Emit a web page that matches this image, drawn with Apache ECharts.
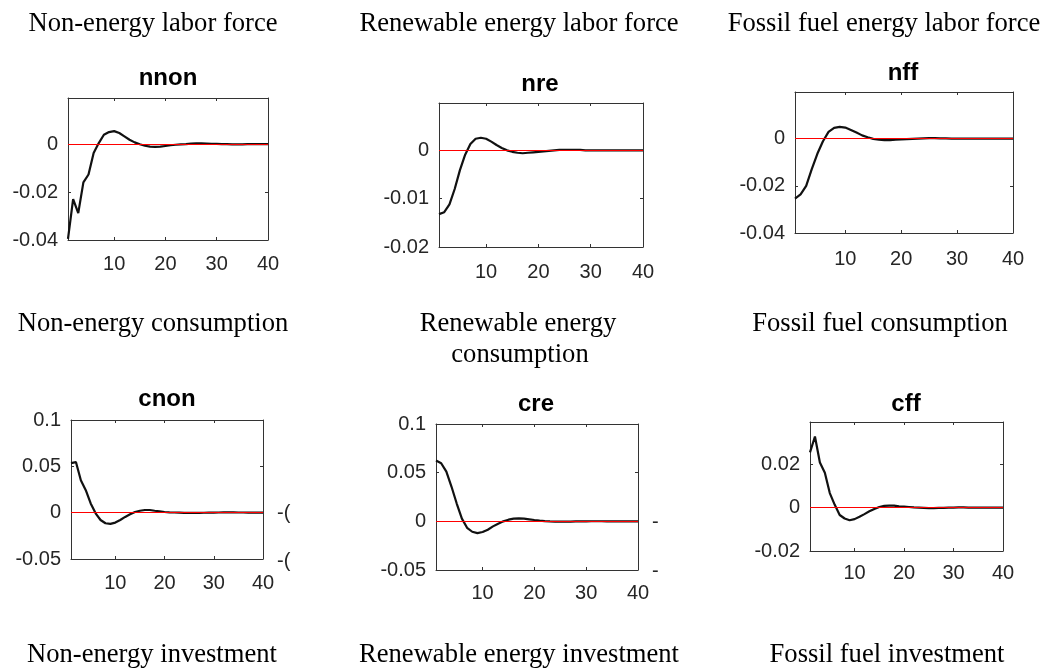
<!DOCTYPE html>
<html>
<head>
<meta charset="utf-8">
<title>Impulse responses</title>
<script src="https://cdn.jsdelivr.net/npm/echarts@6/dist/echarts.min.js"></script>
<style>
  html, body { margin: 0; padding: 0; background: #fff; }
  #main { width: 1046px; height: 668px; }
</style>
</head>
<body>
<div id="main"></div>
<script>
// 期数 (impulse response horizon)
var periods = [1, 2, 3, 4, 5, 6, 7, 8, 9, 10, 11, 12, 13, 14, 15, 16, 17, 18, 19, 20,
  21, 22, 23, 24, 25, 26, 27, 28, 29, 30, 31, 32, 33, 34, 35, 36, 37, 38, 39, 40]

// 各变量的脉冲响应
var nnon = [-0.0395, -0.0230, -0.0288, -0.0160, -0.0127, -0.0037, 0.0004, 0.0039, 0.0050, 0.0054,
  0.0046, 0.0032, 0.0018, 0.0007, -0.0001, -0.0007, -0.0011, -0.0012, -0.0011, -0.0008,
  -0.0005, -0.0003, -0.0001, 0.0000, 0.0002, 0.0003, 0.0003, 0.0002, 0.0001, 0.0001,
  0.0000, 0.0000, -0.0001, -0.0001, -0.0001, 0.0000, 0.0000, 0.0000, 0.0000, 0.0000]
var nre = [-0.0132, -0.0128, -0.0112, -0.0080, -0.0041, -0.0009, 0.0013, 0.0024, 0.0026, 0.0024,
  0.0018, 0.0011, 0.0005, 0.0000, -0.0003, -0.0005, -0.0006, -0.0005, -0.0004, -0.0003,
  -0.0002, -0.0001, 0.0000, 0.0001, 0.0001, 0.0001, 0.0001, 0.0001, 0.0000, 0.0000,
  0.0000, 0.0000, 0.0000, 0.0000, 0.0000, 0.0000, 0.0000, 0.0000, 0.0000, 0.0000]
var nff = [-0.0254, -0.0236, -0.0200, -0.0129, -0.0064, -0.0011, 0.0029, 0.0046, 0.0050, 0.0047,
  0.0037, 0.0026, 0.0014, 0.0006, -0.0001, -0.0004, -0.0006, -0.0006, -0.0004, -0.0003,
  -0.0002, -0.0001, 0.0000, 0.0001, 0.0002, 0.0002, 0.0001, 0.0001, 0.0000, 0.0000,
  0.0000, 0.0000, 0.0000, 0.0000, 0.0000, 0.0000, 0.0000, 0.0000, 0.0000, 0.0000]
var cnon = [0.0535, 0.0546, 0.0350, 0.0243, 0.0100, -0.0007, -0.0079, -0.0114, -0.0121, -0.0107,
  -0.0079, -0.0046, -0.0018, 0.0007, 0.0021, 0.0029, 0.0029, 0.0021, 0.0014, 0.0007,
  0.0004, 0.0002, 0.0000, -0.0002, -0.0003, -0.0003, -0.0002, -0.0001, 0.0000, 0.0001,
  0.0002, 0.0003, 0.0003, 0.0003, 0.0002, 0.0002, 0.0001, 0.0000, 0.0000, 0.0000]
var cre = [0.0624, 0.0597, 0.0510, 0.0355, 0.0183, 0.0028, -0.0066, -0.0107, -0.0121, -0.0110,
  -0.0086, -0.0052, -0.0024, 0.0000, 0.0017, 0.0028, 0.0031, 0.0028, 0.0021, 0.0014,
  0.0008, 0.0003, 0.0000, -0.0002, -0.0003, -0.0003, -0.0002, -0.0001, 0.0000, 0.0000,
  0.0001, 0.0001, 0.0001, 0.0000, 0.0000, 0.0000, 0.0000, 0.0000, 0.0000, 0.0000]
var cff = [0.0255, 0.0328, 0.0208, 0.0161, 0.0067, 0.0013, -0.0034, -0.0050, -0.0058, -0.0053,
  -0.0042, -0.0030, -0.0017, -0.0006, 0.0003, 0.0008, 0.0009, 0.0009, 0.0006, 0.0005,
  0.0003, 0.0001, 0.0000, -0.0001, -0.0002, -0.0002, -0.0001, -0.0001, 0.0000, 0.0000,
  0.0001, 0.0001, 0.0000, 0.0000, 0.0000, 0.0000, 0.0000, 0.0000, 0.0000, 0.0000]

// 子图名称, 刻度, 纵轴范围
var panelNames = ['nnon', 'nre', 'nff', 'cnon', 'cre', 'cff']
var panelSeries = [nnon, nre, nff, cnon, cre, cff]
var xTicks = [10, 20, 30, 40]
var yTicks = [
  [-0.04, -0.02, 0],
  [-0.02, -0.01, 0],
  [-0.04, -0.02, 0],
  [-0.05, 0, 0.05, 0.1],
  [-0.05, 0, 0.05, 0.1],
  [-0.02, 0, 0.02]
]
var yMin = [-0.04, -0.02, -0.04, -0.05, -0.05, -0.02]
var yMax = [0.0192, 0.0098, 0.0198, 0.1, 0.1, 0.0395]

// 说明文字
var captions = [
  'Non-energy labor force', 'Renewable energy labor force', 'Fossil fuel energy labor force',
  'Non-energy consumption', 'Renewable energy', 'consumption', 'Fossil fuel consumption',
  'Non-energy investment', 'Renewable energy investment', 'Fossil fuel investment'
]

// 布局 (像素)
var boxes = [
  { left: 68, top: 98, width: 200, height: 142 },
  { left: 439, top: 103, width: 204, height: 144 },
  { left: 795, top: 92, width: 218, height: 141 },
  { left: 71, top: 420, width: 192, height: 139 },
  { left: 436, top: 424, width: 202, height: 146 },
  { left: 810, top: 422, width: 193, height: 129 }
]
var titlePos = [[168, 66], [540, 72], [903, 61], [167, 387], [536, 392], [906, 392]]
var xLabelMargin = [14, 15, 16, 14, 13, 12]
var captionPos = [
  [153, 24], [519, 24], [884, 24],
  [153, 324], [518, 324], [520, 355], [880, 324],
  [152, 655], [519, 655], [887, 655]
]

var axisColor = '#333'
var labelFont = 'Liberation Sans'

function fmt(v) {
  return String(parseFloat(v.toFixed(4)))
}

var grids = []
var xAxes = []
var yAxes = []
var series = []
var titles = []

panelNames.forEach(function (name, i) {
  grids.push(Object.assign({ containLabel: false }, boxes[i]))
  titles.push({
    text: name,
    left: titlePos[i][0],
    top: titlePos[i][1],
    textAlign: 'center',
    padding: 0,
    textStyle: { fontFamily: labelFont, fontSize: 24, fontWeight: 'bold', color: '#000' }
  })
  // 下方和上方 x 轴
  ;['bottom', 'top'].forEach(function (pos) {
    xAxes.push({
      type: 'value',
      gridIndex: i,
      position: pos,
      min: 1,
      max: 40,
      axisLine: { show: true, onZero: false, lineStyle: { color: axisColor, width: 1 } },
      axisTick: { show: true, inside: true, length: 3, customValues: xTicks, lineStyle: { color: axisColor } },
      axisLabel: {
        show: pos === 'bottom',
        customValues: xTicks,
        margin: xLabelMargin[i],
        fontSize: 20,
        fontFamily: labelFont,
        color: '#262626'
      },
      splitLine: { show: false }
    })
  })
  // 左侧和右侧 y 轴
  ;['left', 'right'].forEach(function (pos) {
    yAxes.push({
      type: 'value',
      gridIndex: i,
      position: pos,
      min: yMin[i],
      max: yMax[i],
      axisLine: { show: true, onZero: false, lineStyle: { color: axisColor, width: 1 } },
      axisTick: { show: true, inside: true, length: 3, customValues: yTicks[i], lineStyle: { color: axisColor } },
      axisLabel: {
        show: pos === 'left',
        customValues: yTicks[i],
        margin: 10,
        fontSize: 20,
        fontFamily: labelFont,
        color: '#262626',
        formatter: fmt
      },
      splitLine: { show: false }
    })
  })
  series.push({
    name: name,
    type: 'line',
    xAxisIndex: 2 * i,
    yAxisIndex: 2 * i,
    data: periods.map(function (t, k) { return [t, panelSeries[i][k]] }),
    showSymbol: false,
    lineStyle: { color: '#111', width: 2.2 },
    markLine: {
      silent: true,
      symbol: 'none',
      label: { show: false },
      lineStyle: { color: '#ff0000', width: 1, type: 'solid' },
      data: [{ yAxis: 0 }]
    }
  })
})

var graphics = captions.map(function (text, k) {
  return {
    type: 'text',
    x: captionPos[k][0],
    y: captionPos[k][1],
    style: {
      text: text,
      font: '26.6px "Liberation Serif"',
      fill: '#000',
      align: 'center',
      verticalAlign: 'middle'
    }
  }
})
// 被裁掉的相邻子图刻度残留
;[['-(', 277, 513], ['-(', 277, 561], ['-', 652, 522], ['-', 652, 571]].forEach(function (s) {
  graphics.push({
    type: 'text',
    x: s[1],
    y: s[2],
    style: { text: s[0], font: '20px "Liberation Sans"', fill: '#262626', align: 'left', verticalAlign: 'middle' }
  })
})

var chart = echarts.init(document.getElementById('main'))
chart.setOption({
  animation: false,
  backgroundColor: '#fff',
  title: titles,
  grid: grids,
  xAxis: xAxes,
  yAxis: yAxes,
  series: series,
  graphic: graphics
})
</script>
</body>
</html>
